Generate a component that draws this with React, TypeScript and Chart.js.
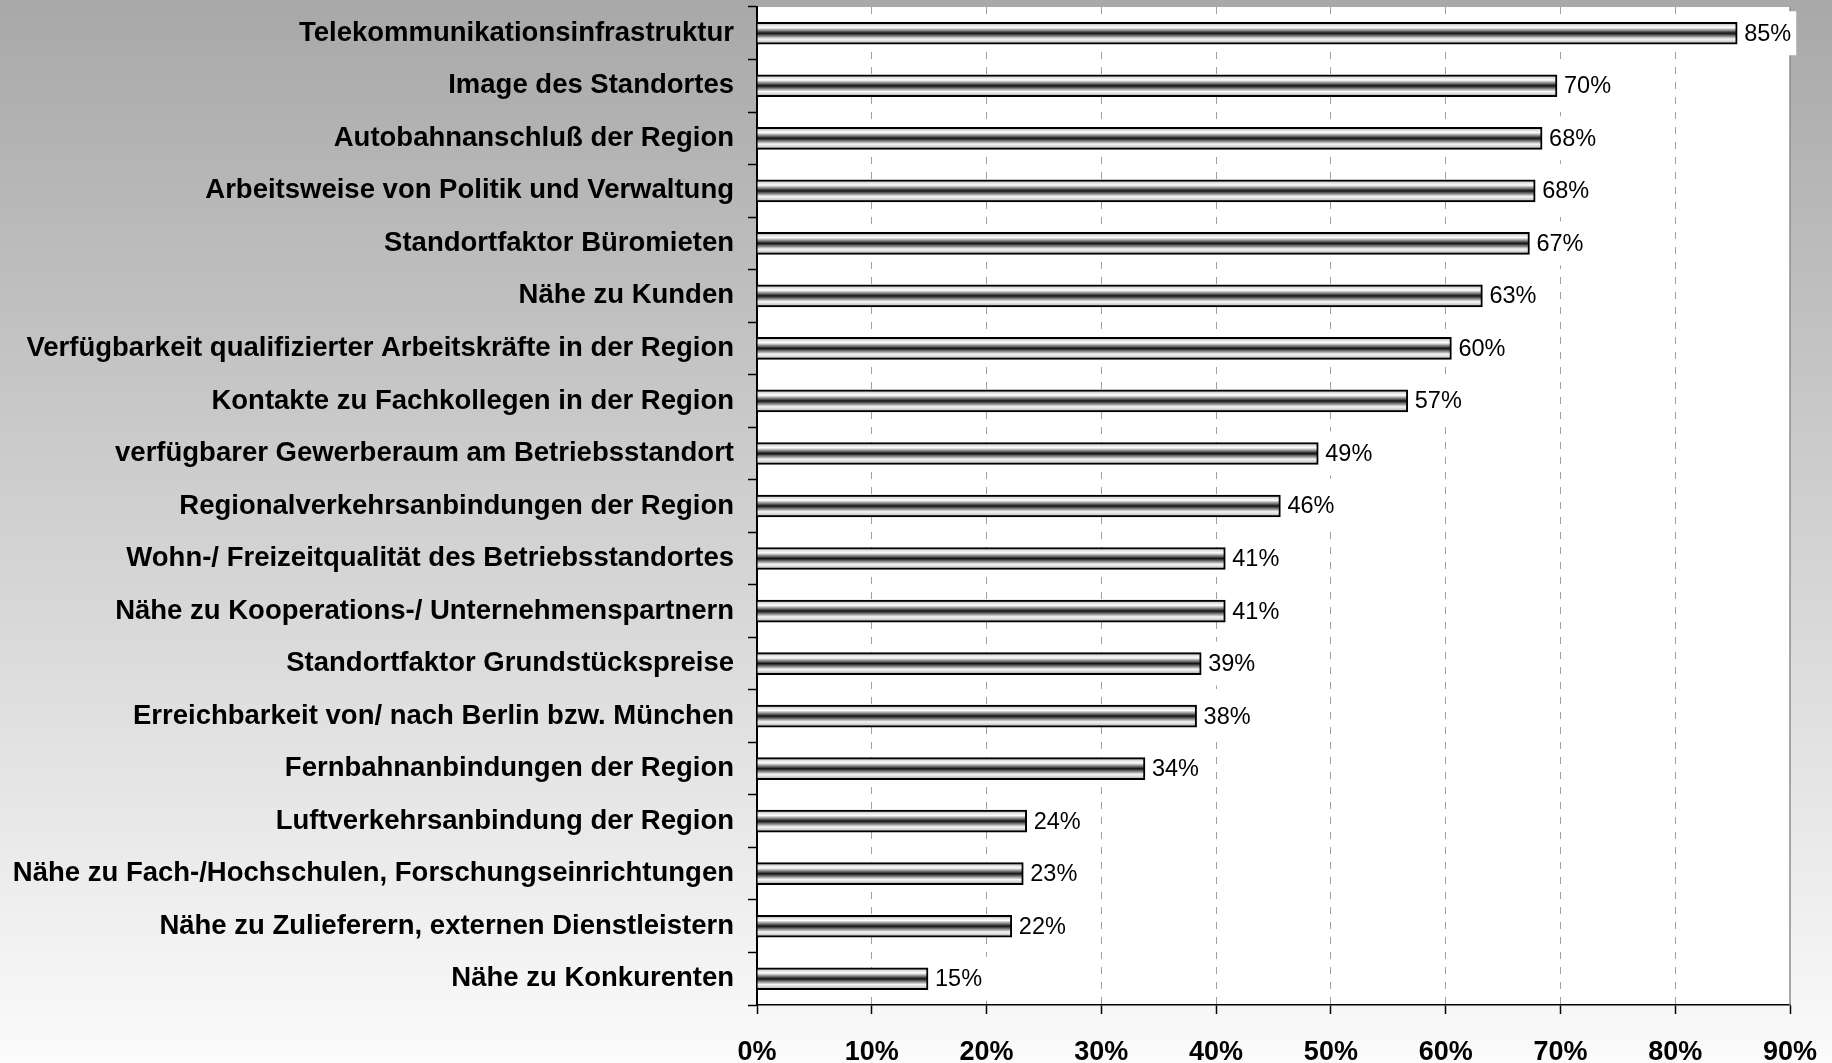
import React, { useEffect, useRef } from "react";
import { Chart, registerables } from "chart.js";

Chart.register(...registerables);

const categories: string[] = [
  "Telekommunikationsinfrastruktur",
  "Image des Standortes",
  "Autobahnanschluß der Region",
  "Arbeitsweise von Politik und Verwaltung",
  "Standortfaktor Büromieten",
  "Nähe zu Kunden",
  "Verfügbarkeit qualifizierter Arbeitskräfte in der Region",
  "Kontakte zu Fachkollegen in der Region",
  "verfügbarer Gewerberaum am Betriebsstandort",
  "Regionalverkehrsanbindungen der Region",
  "Wohn-/ Freizeitqualität des Betriebsstandortes",
  "Nähe zu Kooperations-/ Unternehmenspartnern",
  "Standortfaktor Grundstückspreise",
  "Erreichbarkeit von/ nach Berlin bzw. München",
  "Fernbahnanbindungen der Region",
  "Luftverkehrsanbindung der Region",
  "Nähe zu Fach-/Hochschulen, Forschungseinrichtungen",
  "Nähe zu Zulieferern, externen Dienstleistern",
  "Nähe zu Konkurenten",
];

const values: number[] = [
  85.4, 69.7, 68.4, 67.8, 67.3, 63.2, 60.5, 56.7, 48.9, 45.6, 40.8, 40.8, 38.7,
  38.3, 33.8, 23.5, 23.2, 22.2, 14.9,
];

const valueLabels: string[] = [
  "85%", "70%", "68%", "68%", "67%", "63%", "60%", "57%", "49%", "46%", "41%",
  "41%", "39%", "38%", "34%", "24%", "23%", "22%", "15%",
];

const xTicks: number[] = [0, 10, 20, 30, 40, 50, 60, 70, 80, 90];

const W = 1832;
const H = 1063;
const BAR_T = 22;
const FONT = '"Liberation Sans", Arial, sans-serif';

const backgroundPlugin = {
  id: "bgPlugin",
  beforeDraw(chart: any) {
    const { ctx, chartArea } = chart;
    ctx.save();
    const g = ctx.createLinearGradient(0, 0, 0, H);
    g.addColorStop(0, "#a8a8a8");
    g.addColorStop(1, "#fbfbfb");
    ctx.fillStyle = g;
    ctx.fillRect(0, 0, W, H);
    ctx.fillStyle = "#ffffff";
    ctx.fillRect(
      chartArea.left,
      chartArea.top,
      chartArea.right - chartArea.left,
      chartArea.bottom - chartArea.top
    );
    ctx.restore();
  },
  beforeDatasetsDraw(chart: any) {
    const { ctx, chartArea } = chart;
    ctx.save();
    ctx.strokeStyle = "#8c8c8c";
    ctx.lineWidth = 1.5;
    ctx.beginPath();
    ctx.moveTo(chartArea.right, chartArea.top);
    ctx.lineTo(chartArea.right, chartArea.bottom);
    ctx.stroke();
    ctx.restore();
  },
  afterDatasetsDraw(chart: any) {
    const { ctx } = chart;
    const meta = chart.getDatasetMeta(0);
    ctx.save();
    ctx.font = `23.5px ${FONT}`;
    ctx.textBaseline = "middle";
    ctx.textAlign = "left";
    meta.data.forEach((bar: any, i: number) => {
      const txt = valueLabels[i];
      const x = bar.x + 7;
      const y = bar.y;
      const w = ctx.measureText(txt).width;
      ctx.fillStyle = "#ffffff";
      ctx.fillRect(x - 5, y - 22, w + 10, 44);
      ctx.fillStyle = "#000000";
      ctx.fillText(txt, x, y + 1);
    });
    ctx.restore();
  },
};

export default function App() {
  const ref = useRef<HTMLCanvasElement | null>(null);

  useEffect(() => {
    if (!ref.current) return;
    const chart = new Chart(ref.current, {
      type: "bar",
      data: {
        labels: categories,
        datasets: [
          {
            data: values,
            barThickness: BAR_T,
            borderColor: "#000000",
            borderWidth: 2,
            backgroundColor: (c: any) => {
              const ch = c.chart;
              const ys = ch.scales && ch.scales.y;
              if (!ys || c.type !== "data") return "#888888";
              const yc = ys.getPixelForValue(c.dataIndex);
              if (!Number.isFinite(yc)) return "#888888";
              const h = BAR_T / 2;
              const g = ch.ctx.createLinearGradient(0, yc - h, 0, yc + h);
              g.addColorStop(0, "#8a8a8a");
              g.addColorStop(0.12, "#dcdcdc");
              g.addColorStop(0.24, "#ffffff");
              g.addColorStop(0.5, "#121212");
              g.addColorStop(0.76, "#f6f6f6");
              g.addColorStop(0.88, "#d2d2d2");
              g.addColorStop(1, "#8a8a8a");
              return g;
            },
          },
        ],
      },
      options: {
        indexAxis: "y",
        responsive: false,
        animation: false,
        layout: { padding: { left: 0, right: 42, top: 7, bottom: 0 } },
        plugins: {
          legend: { display: false },
          tooltip: { enabled: false },
        },
        scales: {
          x: {
            type: "linear",
            min: 0,
            max: 90,
            afterFit: (s: any) => {
              s.height = 58;
              s.paddingLeft = 0;
              s.paddingRight = 0;
            },
            afterBuildTicks: (s: any) => {
              s.ticks = xTicks.map((v) => ({ value: v }));
            },
            ticks: {
              callback: (v: any) => `${v}%`,
              font: { family: FONT, size: 27, weight: "bold" },
              color: "#000000",
              padding: 22,
              maxRotation: 0,
            },
            grid: {
              color: (c: any) =>
                c.tick && (c.tick.value === 0 || c.tick.value === 90)
                  ? "rgba(0,0,0,0)"
                  : "#a0a0a0",
              lineWidth: 1,
              tickColor: "#000000",
              tickLength: 9,
              tickWidth: 1.5,
              tickBorderDash: [],
            },
            border: { color: "#000000", width: 1.5, dash: [7, 8] },
          },
          y: {
            type: "category",
            afterFit: (s: any) => {
              s.width = 757;
              s.paddingTop = 0;
              s.paddingBottom = 0;
            },
            ticks: {
              font: { family: FONT, size: 27.5, weight: "bold" },
              color: "#000000",
              padding: 14,
              autoSkip: false,
            },
            grid: {
              offset: true,
              drawOnChartArea: false,
              tickLength: 9,
              tickColor: "#000000",
              tickWidth: 1.5,
            },
            border: { color: "#000000", width: 2 },
          },
        },
      },
      plugins: [backgroundPlugin],
    } as any);
    return () => chart.destroy();
  }, []);

  return (
    <div style={{ position: "absolute", left: 0, top: 0, width: W, height: H }}>
      <canvas ref={ref} width={W} height={H} style={{ display: "block" }} />
    </div>
  );
}
